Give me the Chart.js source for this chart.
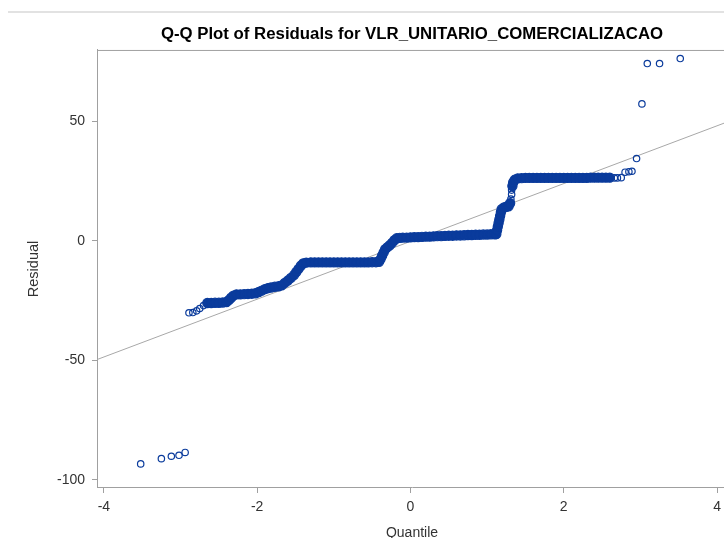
<!DOCTYPE html>
<html>
<head>
<meta charset="utf-8">
<script src="https://cdn.jsdelivr.net/npm/chart.js@4.4.1/dist/chart.umd.min.js"></script>
<style>
    body { margin: 0; overflow: hidden; background: #fff; }
    #sep { position: absolute; left: 8px; top: 11px; width: 716px; height: 2px; background: #e2e2e2; }
    #qq { position: absolute; left: 0; top: 0; }
</style>
</head>
<body>
<div id="sep"></div>
<canvas id="qq" width="740" height="545"></canvas>
<script>
// tick labels
const xTicks = [-4, -2, 0, 2, 4];
const yTicks = [-100, -50, 0, 50];

// dense part of the residuals (solid band)
const bandQuantile = [
    -2.65, -2.60, -2.55, -2.50, -2.45, -2.40, -2.37, -2.34, -2.31, -2.27,
    -2.22, -2.17, -2.12, -2.07, -2.02, -1.98, -1.94, -1.90, -1.86, -1.82,
    -1.77, -1.72, -1.68, -1.64, -1.60, -1.56, -1.52, -1.49, -1.46, -1.43,
    -1.40, -1.36,
    -1.30, -1.25, -1.20, -1.15, -1.10, -1.05, -1.00, -0.95, -0.90, -0.85,
    -0.80, -0.75, -0.70, -0.65, -0.60, -0.55, -0.50, -0.45,
    -0.41, -0.39, -0.37, -0.35, -0.33, -0.30, -0.27, -0.24, -0.21, -0.18,
    -0.14, -0.10, -0.05,
    0.00, 0.05, 0.10, 0.15, 0.20, 0.25, 0.30, 0.35, 0.40, 0.45, 0.50,
    0.55, 0.60, 0.65, 0.70, 0.75, 0.80, 0.85, 0.90, 0.95, 1.00, 1.05, 1.10,
    1.12, 1.13, 1.14, 1.15, 1.16, 1.17, 1.18, 1.19, 1.22, 1.25, 1.28, 1.30,
    1.33, 1.34, 1.36,
    1.40, 1.45, 1.50, 1.55, 1.60, 1.65, 1.70, 1.75, 1.80, 1.85, 1.90, 1.95,
    2.00, 2.05, 2.10, 2.15, 2.20, 2.25, 2.30, 2.35, 2.40, 2.45, 2.50, 2.55, 2.60
];
const bandResidual = [
    -26.0, -26.0, -25.9, -25.9, -25.8, -25.6, -24.8, -23.8, -22.9, -22.4,
    -22.4, -22.3, -22.2, -22.1, -21.9, -21.4, -20.8, -20.2, -19.8, -19.5,
    -19.2, -19.0, -18.6, -17.6, -16.6, -15.5, -14.3, -13.0, -11.7, -10.4,
    -9.4, -9.1,
    -9.0, -9.0, -9.0, -9.0, -9.0, -9.0, -9.0, -9.0, -9.0, -9.0,
    -9.0, -9.0, -9.0, -9.0, -9.0, -9.0, -8.9, -8.9,
    -8.7, -7.6, -6.2, -4.8, -3.5, -2.6, -1.8, -0.8, 0.3, 1.1,
    1.3, 1.4, 1.4,
    1.5, 1.6, 1.6, 1.7, 1.8, 1.8, 1.9, 2.0, 2.0, 2.1, 2.2,
    2.2, 2.3, 2.3, 2.4, 2.5, 2.5, 2.6, 2.6, 2.7, 2.7, 2.8, 2.8,
    2.9, 4.5, 6.0, 7.5, 9.0, 10.5, 12.0, 13.3, 14.0, 14.3, 14.5, 15.8,
    23.0, 24.5, 25.6,
    26.2, 26.3, 26.4, 26.4, 26.4, 26.4, 26.4, 26.4, 26.4, 26.4, 26.4, 26.4,
    26.4, 26.4, 26.4, 26.4, 26.4, 26.4, 26.4, 26.5, 26.5, 26.5, 26.5, 26.5, 26.5
];

// sparse residuals (tails, drawn as open circles)
const sparseQuantile = [-3.52, -3.25, -3.12, -3.02, -2.94, -2.89, -2.84, -2.79, -2.75, -2.70,
    1.31, 1.32, 1.32, 2.66, 2.70, 2.75, 2.80, 2.85, 2.89, 2.95, 3.02, 3.09, 3.25, 3.52];
const sparseResidual = [-93.4, -91.2, -90.2, -89.8, -88.6, -30.1, -30.0, -29.3, -28.3, -27.1,
    17.5, 19.5, 21.3, 26.4, 26.4, 26.5, 28.8, 29.0, 29.2, 34.5, 57.4, 74.3, 74.3, 76.4];

// reference line
const refQuantile = [-4.09, 4.13];
const refResidual = [-49.7, 49.8];

const blue = '#0a3b9c';
const axisGray = '#a0a0a0';
const textGray = '#333333';
const fontFamily = '"Liberation Sans", Arial, sans-serif';

function toPoints(xs, ys) {
    return xs.map((x, i) => ({ x: x, y: ys[i] }));
}

// top and right edge of the plot frame
const framePlugin = {
    id: 'frame',
    afterDraw(chart) {
        const { ctx, chartArea } = chart;
        ctx.save();
        ctx.strokeStyle = axisGray;
        ctx.lineWidth = 1;
        ctx.beginPath();
        ctx.moveTo(chartArea.left, chartArea.top + 0.5);
        ctx.lineTo(chartArea.right, chartArea.top + 0.5);
        ctx.lineTo(chartArea.right, chartArea.bottom);
        ctx.stroke();
        ctx.restore();
    }
};

new Chart(document.getElementById('qq').getContext('2d'), {
    type: 'scatter',
    data: {
        datasets: [
            {
                label: 'band',
                data: toPoints(bandQuantile, bandResidual),
                pointRadius: 4.6,
                pointBorderWidth: 1.2,
                backgroundColor: blue,
                borderColor: blue,
                order: 1
            },
            {
                label: 'tails',
                data: toPoints(sparseQuantile, sparseResidual),
                pointRadius: 3.2,
                pointBorderWidth: 1.2,
                backgroundColor: 'rgba(255,255,255,0)',
                borderColor: blue,
                order: 1
            },
            {
                label: 'reference',
                data: toPoints(refQuantile, refResidual),
                showLine: true,
                pointRadius: 0,
                borderColor: '#a8a8a8',
                borderWidth: 1,
                order: 3
            }
        ]
    },
    options: {
        responsive: false,
        animation: false,
        devicePixelRatio: 1,
        layout: { padding: { left: 0, right: 13, top: 0, bottom: 0 } },
        plugins: {
            legend: { display: false },
            tooltip: { enabled: false },
            title: {
                display: true,
                fullSize: false,
                text: 'Q-Q Plot of Residuals for VLR_UNITARIO_COMERCIALIZACAO',
                color: '#000',
                font: { family: fontFamily, size: 16.8, weight: 'bold', lineHeight: 1.2 },
                padding: { top: 24, bottom: 5.8 }
            }
        },
        scales: {
            x: {
                type: 'linear',
                min: -4.09,
                max: 4.13,
                afterFit: (scale) => { scale.height = 57; },
                afterBuildTicks: (scale) => { scale.ticks = xTicks.map(v => ({ value: v })); },
                grid: { drawOnChartArea: false, drawTicks: true, tickLength: 5, color: axisGray },
                border: { display: true, color: axisGray },
                ticks: { color: textGray, padding: 6, font: { family: fontFamily, size: 14 } },
                title: {
                    display: true,
                    text: 'Quantile',
                    color: textGray,
                    font: { family: fontFamily, size: 14 },
                    padding: { top: 0, bottom: 3 }
                }
            },
            y: {
                type: 'linear',
                min: -103.5,
                max: 80,
                afterFit: (scale) => { scale.width = 97; },
                afterBuildTicks: (scale) => { scale.ticks = yTicks.map(v => ({ value: v })); },
                grid: { drawOnChartArea: false, drawTicks: true, tickLength: 5, color: axisGray },
                border: { display: true, color: axisGray },
                ticks: { color: textGray, padding: 7, font: { family: fontFamily, size: 14 } },
                title: {
                    display: true,
                    text: 'Residual',
                    color: textGray,
                    font: { family: fontFamily, size: 14.5 },
                    padding: { top: 25, bottom: 0 }
                }
            }
        }
    },
    plugins: [framePlugin]
});
</script>
</body>
</html>
